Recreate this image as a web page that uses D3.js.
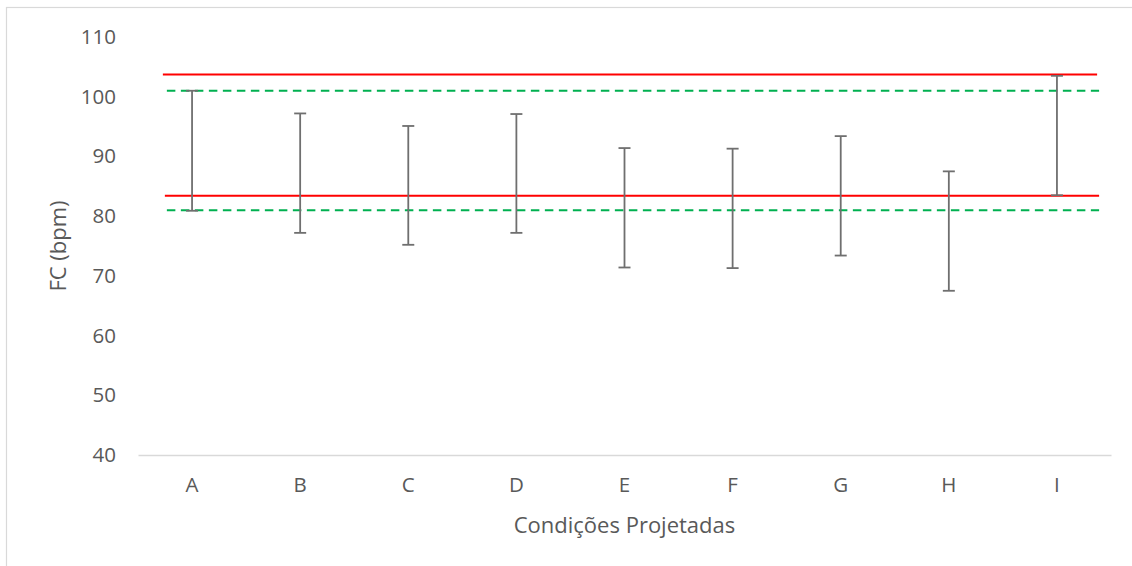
<!DOCTYPE html>
<html lang="pt">
  <head>
    <meta charset="UTF-8" />
    <title>FC por condição projetada</title>
    <script src="https://cdn.jsdelivr.net/npm/d3@7"></script>
    <style>
      html, body { margin: 0; padding: 0; background: #fff; }
      svg { display: block; font-family: "Open Sans", "Noto Sans", sans-serif; }
      .tick-label { fill: #595959; font-size: 20.5px; }
      .axis-title { fill: #595959; font-size: 22px; }
    </style>
  </head>
  <body>
    <div id="chart"></div>
    <script>
      // dados
      const categories = ["A", "B", "C", "D", "E", "F", "G", "H", "I"];
      const lowValues  = [80.9, 77.2, 75.2, 77.2, 71.4, 71.3, 73.4, 67.5, 83.5];
      const highValues = [101.0, 97.2, 95.1, 97.1, 91.4, 91.3, 93.4, 87.5, 103.5];
      const yTicks = [40, 50, 60, 70, 80, 90, 100, 110];
      const redLimits = [103.7, 83.4];
      const greenLimits = [101.0, 81.0];

      const width = 1132, height = 566;
      const margin = { left: 138, right: 21, top: 37, bottom: 111 };

      const svg = d3.select("#chart").append("svg")
        .attr("width", width)
        .attr("height", height);

      // moldura do gráfico
      svg.append("rect")
        .attr("x", 6.5).attr("y", 7.5)
        .attr("width", width).attr("height", height)
        .attr("fill", "none")
        .attr("stroke", "#d9d9d9")
        .attr("stroke-width", 1.2);

      const x = d3.scaleBand()
        .domain(categories)
        .range([margin.left, width - margin.right]);

      const y = d3.scaleLinear()
        .domain([40, 110])
        .range([height - margin.bottom, margin.top]);

      const cx = d => x(d) + x.bandwidth() / 2;

      // eixo x
      const xAxis = svg.append("g")
        .attr("transform", `translate(0,${y(40)})`)
        .call(d3.axisBottom(x).tickSize(0).tickPadding(22))
        .attr("font-family", null).attr("font-size", null);
      xAxis.select(".domain").attr("stroke", "#d9d9d9").attr("stroke-width", 1.3);
      xAxis.selectAll("text").attr("class", "tick-label").attr("fill", null);

      // eixo y (só rótulos)
      const yAxis = svg.append("g")
        .attr("transform", `translate(${margin.left - 22},0)`)
        .call(d3.axisLeft(y).tickValues(yTicks).tickSize(0).tickPadding(0))
        .attr("font-family", null).attr("font-size", null);
      yAxis.select(".domain").remove();
      yAxis.selectAll("text").attr("class", "tick-label").attr("fill", null);

      // linhas de referência
      const step = x.step();
      const lineStart = cx(categories[0]) - 0.27 * step;
      const lineEnd = cx(categories[categories.length - 1]) + 0.39 * step;

      svg.append("g").selectAll("line")
        .data(greenLimits)
        .join("line")
          .attr("x1", lineStart + 4).attr("x2", lineEnd)
          .attr("y1", d => y(d)).attr("y2", d => y(d))
          .attr("stroke", "#00b050")
          .attr("stroke-width", 2)
          .attr("stroke-dasharray", "8.5,5.5");

      svg.append("g").selectAll("line")
        .data(redLimits)
        .join("line")
          .attr("x1", (d, i) => lineStart + i * 2).attr("x2", (d, i) => lineEnd - 2 + i * 2)
          .attr("y1", d => y(d)).attr("y2", d => y(d))
          .attr("stroke", "#ff0000")
          .attr("stroke-width", 2);

      // barras de erro
      const bars = svg.append("g")
        .attr("stroke", "#6f6f6f")
        .attr("stroke-width", 1.8);

      const capHalf = 6;
      categories.forEach((c, i) => {
        const px = cx(c);
        bars.append("line")
          .attr("x1", px).attr("x2", px)
          .attr("y1", y(lowValues[i])).attr("y2", y(highValues[i]));
        bars.append("line")
          .attr("x1", px - capHalf).attr("x2", px + capHalf)
          .attr("y1", y(highValues[i])).attr("y2", y(highValues[i]));
        bars.append("line")
          .attr("x1", px - capHalf).attr("x2", px + capHalf)
          .attr("y1", y(lowValues[i])).attr("y2", y(lowValues[i]));
      });

      // títulos dos eixos
      svg.append("text")
        .attr("class", "axis-title")
        .attr("x", (margin.left + width - margin.right) / 2)
        .attr("y", 533)
        .attr("text-anchor", "middle")
        .text("Condições Projetadas");

      svg.append("text")
        .attr("class", "axis-title")
        .attr("transform", `translate(66,${(y(40) + y(110)) / 2}) rotate(-90)`)
        .attr("text-anchor", "middle")
        .text("FC (bpm)");
    </script>
  </body>
</html>
